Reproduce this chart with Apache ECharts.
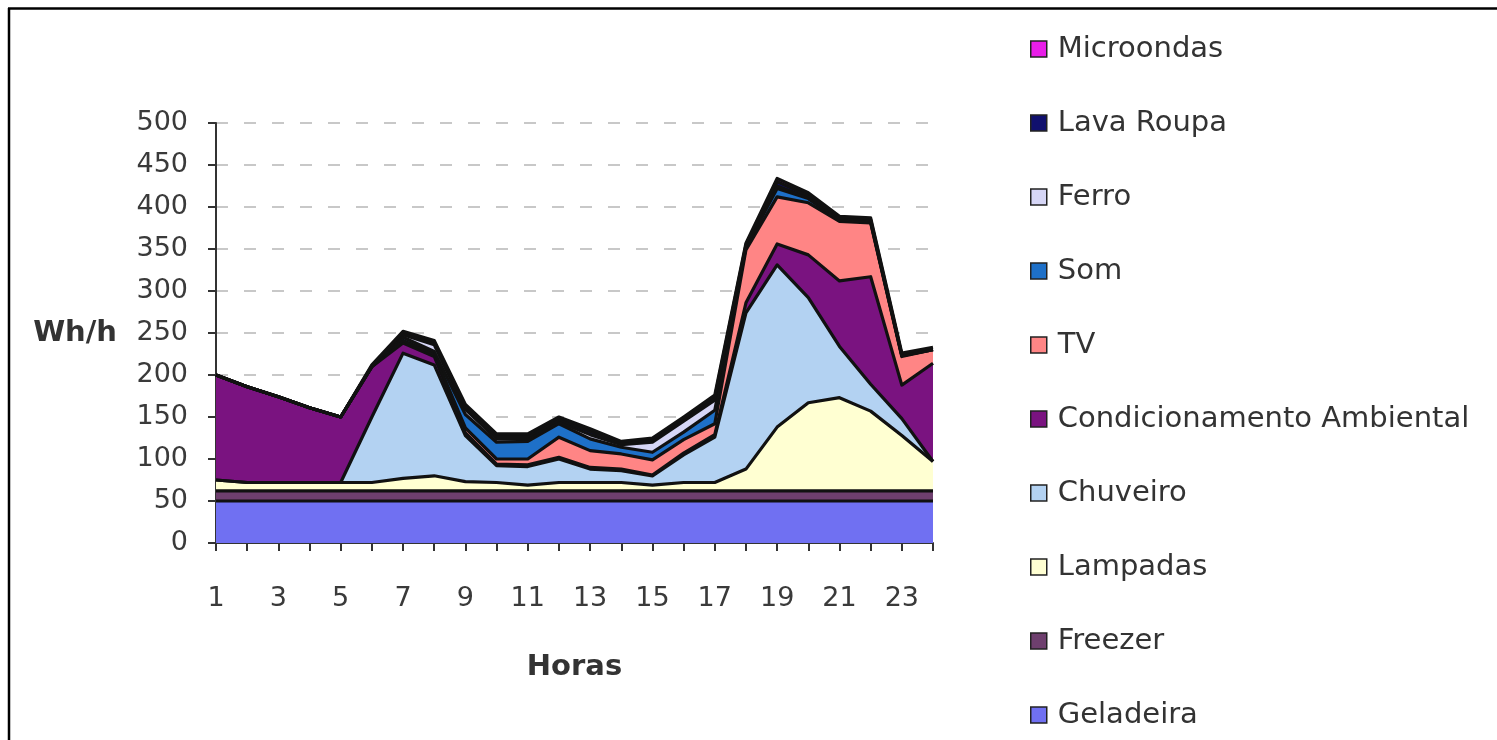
<!DOCTYPE html>
<html>
<head>
<meta charset="utf-8">
<script src="https://cdn.jsdelivr.net/npm/echarts@6/dist/echarts.min.js"></script>
<style>
  html, body { margin: 0; padding: 0; background: #fff; }
  #chart { width: 1497px; height: 740px; }
</style>
</head>
<body>
<div id="chart"></div>
<script>
const hours = ['1','2','3','4','5','6','7','8','9','10','11','12','13','14','15','16','17','18','19','20','21','22','23','24'];
const yTicks = [0, 50, 100, 150, 200, 250, 300, 350, 400, 450, 500];

const geladeira      = [50,50,50,50,50,50,50,50,50,50,50,50,50,50,50,50,50,50,50,50,50,50,50,50];
const freezer        = [12,12,12,12,12,12,12,12,12,12,12,12,12,12,12,12,12,12,12,12,12,12,12,12];
const lampadas       = [13,10,10,10,10,10,15,18,11,10,7,10,10,10,7,10,10,26,76,105,111,95,66,35];
const chuveiro       = [0,0,0,0,0,78,149,132,55,20,22,28,16,14,11,33,54,186,193,125,61,32,20,0];
const condicionamento= [125,114,102,89,78,60,12,10,3,2,2,2,2,2,1,2,3,12,25,51,78,128,40,117];
const tv             = [0,0,0,0,0,0,3,3,6,6,7,24,20,18,18,16,13,63,56,62,71,64,34,16];
const som            = [0,0,0,0,0,0,4,3,16,20,21,16,14,8,9,9,16,3,10,5,1,1,1,0];
const ferro          = [0,0,0,0,0,0,3,8,6,4,3,2,5,3,12,13,12,1,3,1,1,1,0,0];
const lavaRoupa      = [0,0,0,0,0,1,2,2,3,3,3,3,4,2,3,3,3,2,5,3,2,2,1,1];
const microondas     = [0,0,0,0,0,1,2,3,3,3,3,3,3,2,2,2,3,2,4,3,2,2,2,2];

const seriesNames  = ['Geladeira','Freezer','Lampadas','Chuveiro','Condicionamento Ambiental','TV','Som','Ferro','Lava Roupa','Microondas'];
const seriesData   = [geladeira, freezer, lampadas, chuveiro, condicionamento, tv, som, ferro, lavaRoupa, microondas];
const seriesColors = ['#7070F2','#6E3F6E','#FFFFD2','#B3D2F2','#7A1380','#FF8585','#1E70C8','#D6D6F6','#10106E','#E81EE8'];

const FONT = 'DejaVu Sans';

const series = seriesNames.map((name, i) => ({
  name: name,
  type: 'line',
  stack: 'total',
  data: seriesData[i],
  showSymbol: false,
  symbol: 'none',
  color: seriesColors[i],
  itemStyle: { color: seriesColors[i] },
  areaStyle: { color: seriesColors[i], opacity: 1 },
  lineStyle: { color: '#111', width: 3.2, join: 'round' },
  emphasis: { disabled: true },
  animation: false
}));

const chart = echarts.init(document.getElementById('chart'), null, { renderer: 'canvas' });
chart.setOption({
  backgroundColor: '#ffffff',
  animation: false,
  grid: { left: 216, right: 564, top: 123, bottom: 197 },
  xAxis: {
    type: 'category',
    data: hours,
    boundaryGap: false,
    name: 'Horas',
    nameLocation: 'middle',
    nameGap: 110,
    nameTextStyle: { fontFamily: FONT, fontSize: 29, fontWeight: 'bold', color: '#333' },
    axisLine: { show: true, lineStyle: { color: '#333', width: 2 } },
    axisTick: { show: true, interval: 0, length: 8, lineStyle: { color: '#333', width: 2 } },
    axisLabel: { interval: 1, margin: 42, fontFamily: FONT, fontSize: 27, color: '#3a3a3a' },
    splitLine: { show: false }
  },
  yAxis: {
    type: 'value',
    min: yTicks[0],
    max: yTicks[yTicks.length - 1],
    interval: 50,
    name: 'Wh/h',
    nameLocation: 'middle',
    nameRotate: 0,
    nameGap: 99,
    nameTextStyle: { fontFamily: FONT, fontSize: 29, fontWeight: 'bold', color: '#333' },
    axisLine: { show: true, lineStyle: { color: '#333', width: 2 } },
    axisTick: { show: true, length: 8, lineStyle: { color: '#333', width: 2 } },
    axisLabel: { margin: 28, fontFamily: FONT, fontSize: 27, color: '#3a3a3a' },
    splitLine: { show: true, lineStyle: { color: '#c8c8c8', width: 2, type: [12, 16] } }
  },
  legend: {
    orient: 'vertical',
    left: 1025,
    top: 29,
    data: seriesNames.slice().reverse(),
    icon: 'rect',
    itemWidth: 16,
    itemHeight: 16,
    itemGap: 44,
    itemStyle: { borderColor: '#222', borderWidth: 1.5 },
    textStyle: { fontFamily: FONT, fontSize: 29, lineHeight: 30, color: '#333', padding: [0, 0, 0, 6] },
    selectedMode: false
  },
  tooltip: { show: false },
  series: series,
  graphic: [
    { type: 'line', shape: { x1: 8, y1: 8.5, x2: 1497, y2: 8.5 }, style: { stroke: '#000', lineWidth: 2.5 } },
    { type: 'line', shape: { x1: 9, y1: 8, x2: 9, y2: 740 }, style: { stroke: '#000', lineWidth: 2.5 } }
  ]
});
</script>
</body>
</html>
